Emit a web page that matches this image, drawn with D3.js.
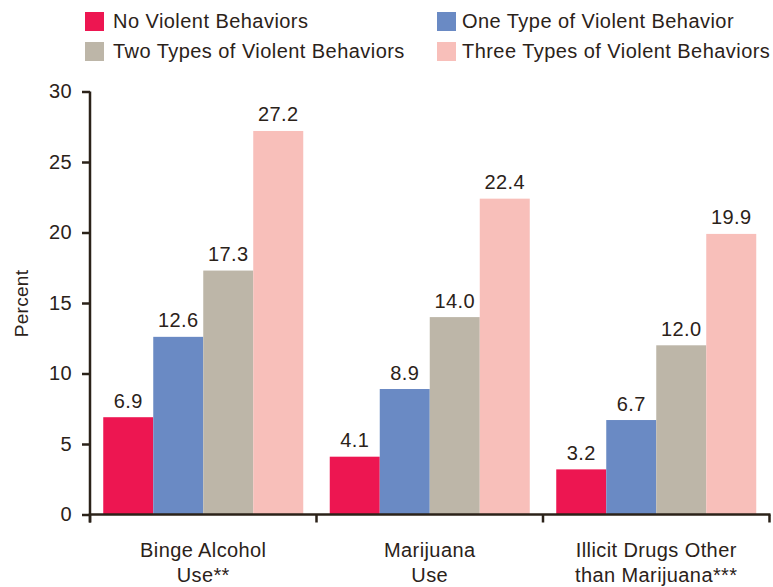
<!DOCTYPE html>
<html>
<head>
<meta charset="utf-8">
<script src="https://cdn.jsdelivr.net/npm/d3@7"></script>
<style>
  html, body { margin: 0; padding: 0; background: #fff; }
  svg { display: block; }
  text { font-family: "Liberation Sans", Arial, Helvetica, sans-serif; fill: #2b2219; }
</style>
</head>
<body>
<svg id="chart" width="773" height="587"></svg>
<script>
// Substance use by number of violent behaviors (percent)
const categories = [
  ["Binge Alcohol", "Use**"],
  ["Marijuana", "Use"],
  ["Illicit Drugs Other", "than Marijuana***"]
];
const seriesNames = [
  "No Violent Behaviors",
  "One Type of Violent Behavior",
  "Two Types of Violent Behaviors",
  "Three Types of Violent Behaviors"
];
const noViolent    = [6.9, 4.1, 3.2];
const oneType      = [12.6, 8.9, 6.7];
const twoTypes     = [17.3, 14.0, 12.0];
const threeTypes   = [27.2, 22.4, 19.9];
const yTicks = [0, 5, 10, 15, 20, 25, 30];
const colors = ["#ed1651", "#6a8ac4", "#bdb6a8", "#f8bfba"];

const series = [noViolent, oneType, twoTypes, threeTypes];
const ink = "#2b2219";

const svg = d3.select("#chart");
const plotLeft = 90, plotRight = 769.5, plotTop = 91.5, plotBottom = 514.5;

const catKeys = categories.map((c, i) => i);
const x0 = d3.scaleBand().domain(catKeys).range([plotLeft, plotRight]).padding(0);
const x1 = d3.scaleBand().domain(d3.range(series.length))
  .range([0, x0.bandwidth()]).paddingInner(0).paddingOuter(0.265);
const y = d3.scaleLinear().domain([0, 30]).range([plotBottom, plotTop]);

// Bars
const groups = svg.append("g").selectAll("g")
  .data(catKeys).join("g")
  .attr("transform", d => `translate(${x0(d)},0)`);

groups.selectAll("rect")
  .data(ci => series.map((s, si) => ({ si, v: s[ci] })))
  .join("rect")
  .attr("x", d => x1(d.si))
  .attr("width", x1.bandwidth())
  .attr("y", d => y(d.v))
  .attr("height", d => y(0) - y(d.v))
  .attr("fill", d => colors[d.si]);

// Value labels
groups.selectAll("text.val")
  .data(ci => series.map((s, si) => ({ si, v: s[ci] })))
  .join("text")
  .attr("class", "val")
  .attr("x", d => x1(d.si) + x1.bandwidth() / 2)
  .attr("y", d => y(d.v) - 9.5)
  .attr("text-anchor", "middle")
  .style("font-size", "20px")
  .style("letter-spacing", "0.4px")
  .text(d => d3.format(".1f")(d.v));

// Y axis
const yAxis = svg.append("g")
  .attr("transform", `translate(${plotLeft},0)`)
  .call(d3.axisLeft(y).tickValues(yTicks).tickSize(8).tickPadding(10).tickSizeOuter(0));
yAxis.select(".domain").attr("stroke", ink).attr("stroke-width", 2.5)
  .attr("d", `M0,${plotTop}V${plotBottom + 8}`);
yAxis.selectAll(".tick line").attr("stroke", ink).attr("stroke-width", 2.5);
yAxis.selectAll(".tick text")
  .attr("fill", ink)
  .style("font-size", "20px")
  .style("letter-spacing", "0.4px")
  .style("font-family", "'Liberation Sans', Arial, sans-serif");

// X axis with ticks at category boundaries
const xAxis = svg.append("g").attr("transform", `translate(0,${plotBottom})`);
xAxis.append("line")
  .attr("x1", plotLeft - 1.25).attr("x2", plotRight + 1)
  .attr("stroke", ink).attr("stroke-width", 2.5);
const bounds = catKeys.map(k => x0(k)).concat([x0(catKeys[catKeys.length - 1]) + x0.bandwidth()]);
xAxis.selectAll("line.tick").data(bounds).join("line")
  .attr("class", "tick")
  .attr("x1", d => d).attr("x2", d => d)
  .attr("y1", 0).attr("y2", 8)
  .attr("stroke", ink).attr("stroke-width", 2.5);

// Category labels
const catLabels = svg.append("g").selectAll("text")
  .data(catKeys).join("text")
  .attr("x", d => x0(d) + x0.bandwidth() / 2)
  .attr("y", 557)
  .attr("text-anchor", "middle")
  .style("font-size", "20px")
  .style("letter-spacing", "0.4px");
catLabels.selectAll("tspan")
  .data(d => categories[d].map(line => ({ line, x: x0(d) + x0.bandwidth() / 2 })))
  .join("tspan")
  .attr("x", d => d.x)
  .attr("dy", (d, i) => i === 0 ? 0 : 25)
  .text(d => d.line);

// Y axis title
svg.append("text")
  .attr("transform", "translate(27.5,303.5) rotate(-90)")
  .attr("text-anchor", "middle")
  .style("font-size", "19px")
  .style("letter-spacing", "0.3px")
  .text("Percent");

// Legend, two columns by two rows
const legendPos = [[85, 12], [437, 12], [85, 42], [437, 42]];
const legend = svg.append("g").selectAll("g")
  .data(seriesNames).join("g")
  .attr("transform", (d, i) => `translate(${legendPos[i][0]},${legendPos[i][1]})`);
legend.append("rect")
  .attr("width", 19).attr("height", 19)
  .attr("fill", (d, i) => colors[i]);
legend.append("text")
  .attr("x", (d, i) => i % 2 === 0 ? 28 : 25)
  .attr("y", 15.5)
  .style("font-size", "20px")
  .style("letter-spacing", "0.45px")
  .text(d => d);
</script>
</body>
</html>
